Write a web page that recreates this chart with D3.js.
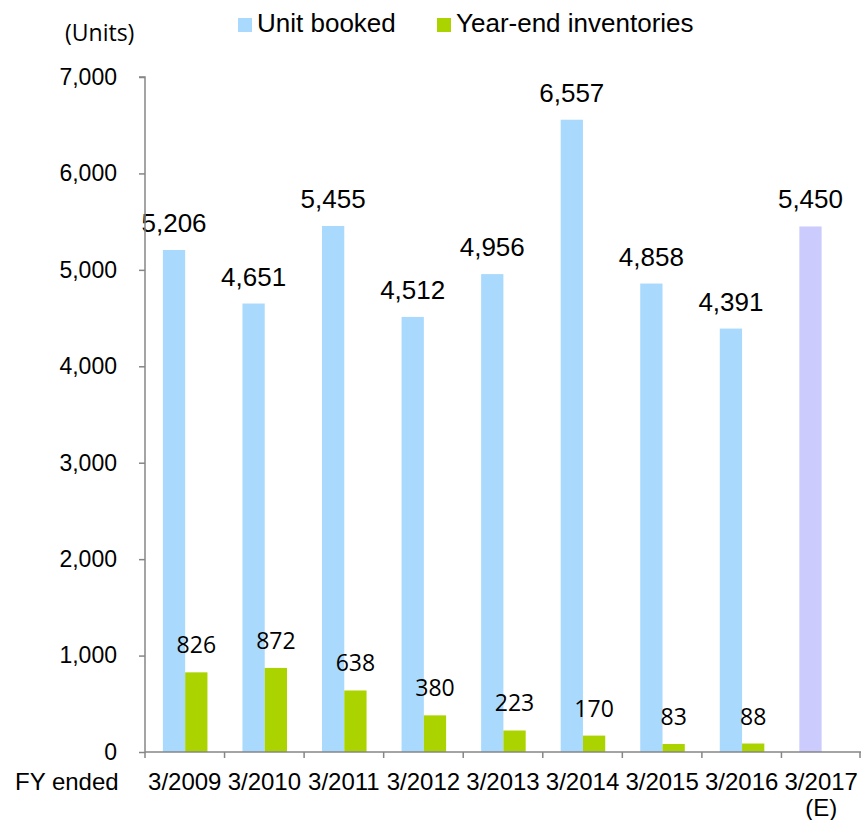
<!DOCTYPE html>
<html>
<head>
<meta charset="utf-8">
<script src="https://cdn.jsdelivr.net/npm/d3@7"></script>
<style>
  body { margin: 0; background: #fff; }
  svg { display: block; }
</style>
</head>
<body>
<svg width="861" height="820"></svg>
<script>
// chart data
const years = ["3/2009", "3/2010", "3/2011", "3/2012", "3/2013", "3/2014", "3/2015", "3/2016", "3/2017"];
const unitBooked = [5206, 4651, 5455, 4512, 4956, 6557, 4858, 4391, 5450];
const inventories = [826, 872, 638, 380, 223, 170, 83, 88, null];
const estimated = [false, false, false, false, false, false, false, false, true];
const yTicks = [0, 1000, 2000, 3000, 4000, 5000, 6000, 7000];

window.onload = () => {
  const svg = d3.select("svg");
  const width = +svg.attr("width");

  const left = 145, right = width, top = 77, bottom = 752;
  const axisColor = "#868686";
  const blue = "#a9dafd", green = "#aad300", lavender = "#cbcbfd";
  const sans = "'Liberation Sans', Arial, sans-serif";
  const soft = "'Open Sans', sans-serif";

  const x0 = d3.scaleBand().domain(years).range([left, right]);
  const x1 = d3.scaleBand().domain(["booked", "inv"])
    .range([x0.bandwidth() * 0.225, x0.bandwidth() * 0.785]);
  const y = d3.scaleLinear().domain([0, 7000]).range([bottom, top]);

  const fmt = d3.format(",");

  const rows = years.map((yr, i) => ({
    year: yr, booked: unitBooked[i], inv: inventories[i], est: estimated[i]
  }));

  // bars
  const g = svg.append("g");
  g.selectAll("rect.booked")
    .data(rows)
    .enter()
    .append("rect")
    .attr("class", "booked")
    .attr("x", d => x0(d.year) + x1("booked"))
    .attr("y", d => y(d.booked))
    .attr("width", x1.bandwidth())
    .attr("height", d => y(0) - y(d.booked))
    .attr("fill", d => d.est ? lavender : blue);

  const invRows = rows.filter(d => d.inv != null);
  g.selectAll("rect.inv")
    .data(invRows)
    .enter()
    .append("rect")
    .attr("class", "inv")
    .attr("x", d => x0(d.year) + x1("inv"))
    .attr("y", d => y(d.inv))
    .attr("width", x1.bandwidth())
    .attr("height", d => y(0) - y(d.inv))
    .attr("fill", green);

  // value labels
  g.selectAll("text.bookedLbl")
    .data(rows)
    .enter()
    .append("text")
    .attr("x", d => x0(d.year) + x1("booked") + x1.bandwidth() / 2)
    .attr("y", d => y(d.booked) - 18)
    .attr("text-anchor", "middle")
    .style("font-family", sans)
    .style("font-size", "26px")
    .attr("fill", "#000")
    .text(d => fmt(d.booked));

  g.selectAll("text.invLbl")
    .data(invRows)
    .enter()
    .append("text")
    .attr("x", d => x0(d.year) + x1("inv") + x1.bandwidth() / 2)
    .attr("y", d => y(d.inv) - 19)
    .attr("text-anchor", "middle")
    .style("font-family", soft)
    .style("font-size", "23px")
    .attr("fill", "#000")
    .text(d => fmt(d.inv));

  // y axis
  const yAxis = svg.append("g")
    .attr("transform", `translate(${left},0)`)
    .call(d3.axisLeft(y).tickValues(yTicks).tickFormat(fmt).tickSize(6).tickPadding(22));
  yAxis.select(".domain").attr("stroke", axisColor).attr("stroke-width", 1.5)
    .attr("d", `M-6,${top}H0V${bottom}`);
  yAxis.selectAll(".tick line").attr("stroke", axisColor).attr("stroke-width", 1.5);
  yAxis.selectAll(".tick text")
    .style("font-family", sans).style("font-size", "23px").attr("fill", "#000");

  // x axis with ticks at band edges
  const xa = svg.append("g");
  xa.append("line")
    .attr("x1", left).attr("x2", right)
    .attr("y1", bottom).attr("y2", bottom)
    .attr("stroke", axisColor).attr("stroke-width", 1.5);
  const edges = years.map(d => x0(d)).concat([x0.range()[1] - 1]);
  xa.selectAll("line.edge")
    .data(edges)
    .enter()
    .append("line")
    .attr("x1", d => d).attr("x2", d => d)
    .attr("y1", bottom).attr("y2", bottom + 6)
    .attr("stroke", axisColor).attr("stroke-width", 1.5);

  const xl = xa.selectAll("text.cat")
    .data(rows)
    .enter()
    .append("text")
    .attr("x", d => x0(d.year) + x0.bandwidth() / 2)
    .attr("y", 790)
    .attr("text-anchor", "middle")
    .style("font-family", sans)
    .style("font-size", "24px")
    .attr("fill", "#000");
  xl.append("tspan").text(d => d.year);
  xl.filter(d => d.est).append("tspan")
    .attr("x", d => x0(d.year) + x0.bandwidth() / 2)
    .attr("dy", 26)
    .text("(E)");

  svg.append("text")
    .attr("x", 15).attr("y", 790)
    .style("font-family", sans).style("font-size", "24px")
    .text("FY ended");

  svg.append("text")
    .attr("x", 65).attr("y", 41)
    .style("font-family", soft).style("font-size", "23px")
    .text("(Units)");

  // legend
  const legend = [
    { label: "Unit booked", color: blue, x: 238 },
    { label: "Year-end inventories", color: green, x: 437 }
  ];
  const lg = svg.append("g").selectAll("g")
    .data(legend)
    .enter()
    .append("g")
    .attr("transform", d => `translate(${d.x},18)`);
  lg.append("rect").attr("width", 14).attr("height", 14).attr("fill", d => d.color);
  lg.append("text")
    .attr("x", 19).attr("y", 14)
    .style("font-family", sans).style("font-size", "26px")
    .text(d => d.label);
};
</script>
</body>
</html>
